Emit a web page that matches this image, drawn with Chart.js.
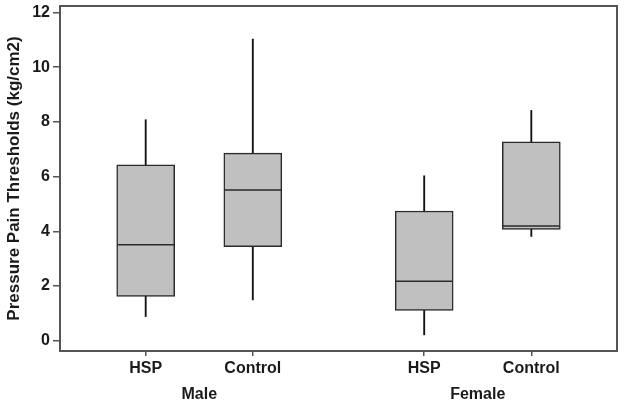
<!DOCTYPE html>
<html>
<head>
<meta charset="utf-8">
<script src="https://cdn.jsdelivr.net/npm/chart.js@4"></script>
<style>
  html, body { margin: 0; padding: 0; background: #fff; }
  #wrap { width: 624px; height: 403px; }
</style>
</head>
<body>
<div id="wrap"><canvas id="boxChart"></canvas></div>
<script>
// groups and categories
const groups = ['Male', 'Female'];
const categories = ['HSP', 'Control', 'HSP', 'Control'];
const xPos = [1, 2, 3.6, 4.6];

// box plot stats (kg/cm2)
const whiskerLow = [0.88, 1.49, 0.21, 3.81];
const q1 = [1.62, 3.44, 1.10, 4.07];
const median = [3.51, 5.51, 2.17, 4.19];
const q3 = [6.43, 6.86, 4.74, 7.27];
const whiskerHigh = [8.08, 11.03, 6.03, 8.42];

const yTicks = [0, 2, 4, 6, 8, 10, 12];

const font = { family: 'Liberation Sans, Arial, sans-serif', size: 16, weight: 'bold' };
const titleFont = { family: 'Liberation Sans, Arial, sans-serif', size: 17, weight: 'bold' };
const textColor = '#1a1a1a';
const axisColor = '#555';

const frame = {
  id: 'frame',
  afterDraw(chart) {
    const a = chart.chartArea;
    const c = chart.ctx;
    c.save();
    c.strokeStyle = axisColor;
    c.lineWidth = 2;
    c.strokeRect(a.left, a.top, a.right - a.left, a.bottom - a.top);
    c.restore();
  }
};

function noPad(axis) {
  axis.paddingLeft = 0;
  axis.paddingRight = 0;
  axis.paddingTop = 0;
  axis.paddingBottom = 0;
}

const ctx = document.getElementById('boxChart').getContext('2d');
const boxChart = new Chart(ctx, {
  type: 'bar',
  data: {
    datasets: [
      {
        label: 'whisker',
        data: xPos.map((x, i) => ({ x: x, y: [whiskerLow[i], whiskerHigh[i]] })),
        backgroundColor: '#111',
        borderWidth: 0,
        barThickness: 1.2,
        grouped: false,
        order: 3
      },
      {
        label: 'box',
        data: xPos.map((x, i) => ({ x: x, y: [q1[i], q3[i]] })),
        backgroundColor: '#c0c0c0',
        borderColor: '#2a2a2a',
        borderWidth: 1.5,
        borderSkipped: false,
        barThickness: 58,
        grouped: false,
        order: 2
      },
      {
        type: 'scatter',
        label: 'median',
        data: xPos.map((x, i) => ({ x: x, y: median[i] })),
        pointStyle: 'line',
        pointRadius: 28.5,
        borderColor: '#2a2a2a',
        borderWidth: 1.5,
        order: 1
      }
    ]
  },
  options: {
    responsive: true,
    maintainAspectRatio: false,
    animation: false,
    events: [],
    layout: { autoPadding: false, padding: { left: 4, top: 6, right: 7, bottom: 0 } },
    plugins: { legend: { display: false }, tooltip: { enabled: false } },
    scales: {
      x: {
        type: 'linear',
        position: 'bottom',
        min: 0.2,
        max: 5.4,
        offset: false,
        afterBuildTicks: (axis) => { axis.ticks = xPos.map(v => ({ value: v })); },
        afterFit: (axis) => { axis.height = 22; noPad(axis); },
        grid: { drawOnChartArea: false, offset: false, tickLength: 5, color: axisColor, lineWidth: 1.5 },
        border: { display: false },
        ticks: {
          color: textColor,
          font: font,
          padding: 3,
          maxRotation: 0,
          autoSkip: false,
          callback: (v, i) => categories[i]
        }
      },
      x2: {
        type: 'linear',
        position: 'bottom',
        min: 0.2,
        max: 5.4,
        offset: false,
        afterBuildTicks: (axis) => {
          axis.ticks = groups.map((g, k) => ({ value: (xPos[2 * k] + xPos[2 * k + 1]) / 2 }));
        },
        afterFit: (axis) => { axis.height = 30; noPad(axis); },
        grid: { display: false, offset: false },
        border: { display: false },
        ticks: {
          color: textColor,
          font: font,
          padding: 4,
          maxRotation: 0,
          autoSkip: false,
          callback: (v, i) => groups[i]
        }
      },
      y: {
        min: -0.38,
        max: 12.24,
        afterBuildTicks: (axis) => { axis.ticks = yTicks.map(v => ({ value: v })); },
        afterFit: (axis) => { axis.width = 56; noPad(axis); },
        grid: { drawOnChartArea: false, tickLength: 7, color: axisColor, lineWidth: 1.5 },
        border: { display: false },
        ticks: { color: textColor, font: font, padding: 3 },
        title: {
          display: true,
          text: 'Pressure Pain Thresholds (kg/cm2)',
          color: textColor,
          font: titleFont,
          padding: { top: 0, bottom: 0 }
        }
      }
    }
  },
  plugins: [frame]
});
</script>
</body>
</html>
